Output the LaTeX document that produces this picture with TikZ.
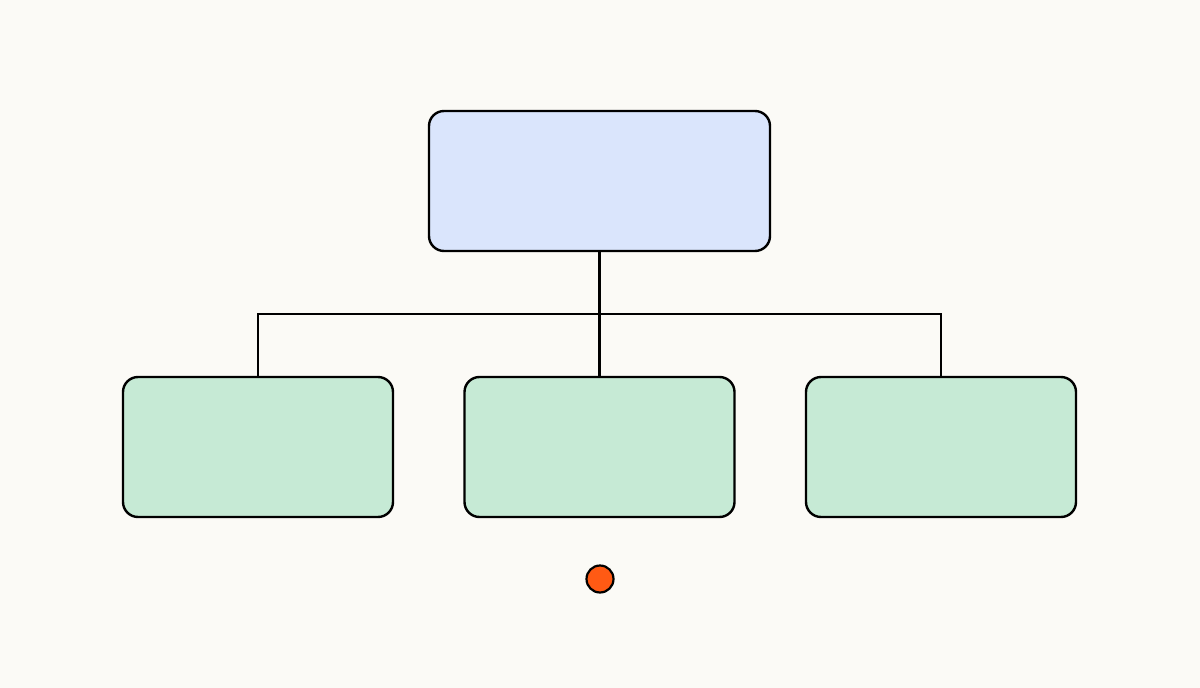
\documentclass[tikz,border=0pt]{standalone}
\definecolor{bg}{HTML}{FBFAF6}
\definecolor{topfill}{HTML}{DAE5FC}
\definecolor{leaffill}{HTML}{C6EAD5}
\definecolor{dotfill}{HTML}{FF5A14}
\begin{document}
\begin{tikzpicture}[x=1pt,y=-1pt,
  boxstyle/.style={draw=black,line width=2.4pt,rounded corners=15pt},
  wire/.style={draw=black,line width=2.9pt}]
\fill[bg] (0,0) rectangle (1200,688);
\useasboundingbox (0,0) rectangle (1200,688);
\node[boxstyle,fill=topfill,minimum width=341pt,minimum height=140pt,inner sep=0pt] (top) at (599.5,181) {};
\node[boxstyle,fill=leaffill,minimum width=270pt,minimum height=140pt,inner sep=0pt] (l) at (258,447) {};
\node[boxstyle,fill=leaffill,minimum width=270pt,minimum height=140pt,inner sep=0pt] (m) at (599.5,447) {};
\node[boxstyle,fill=leaffill,minimum width=270pt,minimum height=140pt,inner sep=0pt] (r) at (941,447) {};
\coordinate (j) at (599.5,314);
\draw[wire] (top.south) -- (m.north);
\draw[wire] (l.north) |- (j) -| (r.north);
\node[circle,draw=black,line width=2.2pt,fill=dotfill,minimum size=27pt,inner sep=0pt] (dot) at (600,579) {};
\end{tikzpicture}
\end{document}
